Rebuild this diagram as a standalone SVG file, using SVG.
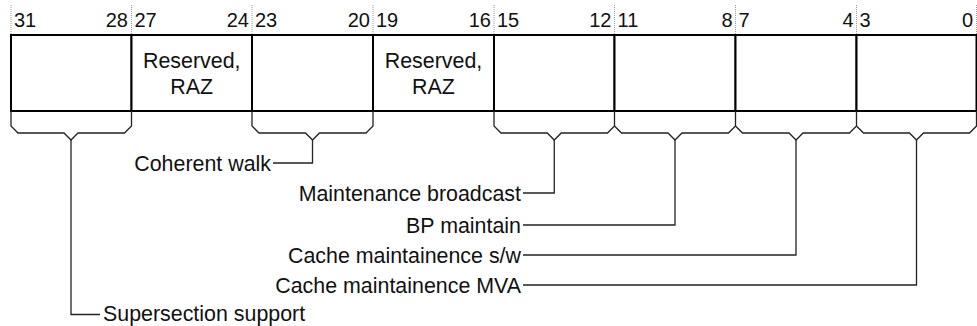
<svg xmlns="http://www.w3.org/2000/svg" width="977" height="326" viewBox="0 0 977 326">
<style>
.bg{fill:#ffffff}
.fld{fill:#ffffff;stroke:#000;stroke-width:2}
.tick{stroke:#9a9a9a;stroke-width:1;stroke-dasharray:1,1}
.num{font-family:"Liberation Sans",Arial,sans-serif;font-size:20px;fill:#111}
.lbl{font-family:"Liberation Sans",Arial,sans-serif;font-size:21.4px;fill:#111}
.br{fill:none;stroke:#222;stroke-width:1.3}
</style>
<rect class="bg" x="0" y="0" width="977" height="326"/>
<g id="ticks">
<line class="tick" x1="11" y1="5" x2="11" y2="35"/>
<line class="tick" x1="131.5" y1="5" x2="131.5" y2="35"/>
<line class="tick" x1="252" y1="5" x2="252" y2="35"/>
<line class="tick" x1="373" y1="5" x2="373" y2="35"/>
<line class="tick" x1="494" y1="5" x2="494" y2="35"/>
<line class="tick" x1="614.5" y1="5" x2="614.5" y2="35"/>
<line class="tick" x1="735.5" y1="5" x2="735.5" y2="35"/>
<line class="tick" x1="856.5" y1="5" x2="856.5" y2="35"/>
<line class="tick" x1="976.5" y1="5" x2="976.5" y2="35"/>
</g>
<g id="f31_28">
<rect class="fld" x="11" y="35" width="120.5" height="76"/>
<text class="num" x="14" y="27">31</text>
<text class="num" x="128" y="27" text-anchor="end">28</text>
</g>
<g id="f27_24">
<rect class="fld" x="131.5" y="35" width="120.5" height="76"/>
<text class="num" x="134.5" y="27">27</text>
<text class="num" x="249" y="27" text-anchor="end">24</text>
<text class="lbl" x="191.75" y="68" text-anchor="middle">Reserved,</text>
<text class="lbl" x="191.75" y="94" text-anchor="middle">RAZ</text>
</g>
<g id="f23_20">
<rect class="fld" x="252" y="35" width="121" height="76"/>
<text class="num" x="255" y="27">23</text>
<text class="num" x="370" y="27" text-anchor="end">20</text>
</g>
<g id="f19_16">
<rect class="fld" x="373" y="35" width="121" height="76"/>
<text class="num" x="376" y="27">19</text>
<text class="num" x="491" y="27" text-anchor="end">16</text>
<text class="lbl" x="433.5" y="68" text-anchor="middle">Reserved,</text>
<text class="lbl" x="433.5" y="94" text-anchor="middle">RAZ</text>
</g>
<g id="f15_12">
<rect class="fld" x="494" y="35" width="120.5" height="76"/>
<text class="num" x="497" y="27">15</text>
<text class="num" x="611.5" y="27" text-anchor="end">12</text>
</g>
<g id="f11_8">
<rect class="fld" x="614.5" y="35" width="121" height="76"/>
<text class="num" x="617.5" y="27">11</text>
<text class="num" x="732.5" y="27" text-anchor="end">8</text>
</g>
<g id="f7_4">
<rect class="fld" x="735.5" y="35" width="121" height="76"/>
<text class="num" x="738.5" y="27">7</text>
<text class="num" x="853.5" y="27" text-anchor="end">4</text>
</g>
<g id="f3_0">
<rect class="fld" x="856.5" y="35" width="120" height="76"/>
<text class="num" x="859.5" y="27">3</text>
<text class="num" x="973" y="27" text-anchor="end">0</text>
</g>
<g id="labels">
<text class="lbl" x="271" y="170.5" text-anchor="end">Coherent walk</text>
<text class="lbl" x="521" y="200.5" text-anchor="end">Maintenance broadcast</text>
<text class="lbl" x="521" y="232.5" text-anchor="end">BP maintain</text>
<text class="lbl" x="521" y="262.5" text-anchor="end">Cache maintainence s/w</text>
<text class="lbl" x="521" y="292.5" text-anchor="end">Cache maintainence MVA</text>
<text class="lbl" x="103" y="321">Supersection support</text>
</g>
<g id="connectors">
<path class="br" d="M11,111 V126 L18,133 H64 L71,140 L78,133 H124.5 L131.5,126 V111"/>
<path class="br" d="M252,111 V126 L259,133 H305.5 L312.5,140 L319.5,133 H366 L373,126 V111"/>
<path class="br" d="M494,111 V126 L501,133 H547.25 L554.25,140 L561.25,133 H607.5 L614.5,126 V111"/>
<path class="br" d="M614.5,126 L621.5,133 H668 L675,140 L682,133 H728.5 L735.5,126 V111"/>
<path class="br" d="M735.5,126 L742.5,133 H789 L796,140 L803,133 H849.5 L856.5,126 V111"/>
<path class="br" d="M856.5,126 L863.5,133 H909.5 L916.5,140 L923.5,133 H969.5 L976.5,126 V111"/>
<path class="br" d="M71,140 V314.5 H100"/>
<path class="br" d="M312.5,140 V163 H273"/>
<path class="br" d="M554.25,140 V193 H523"/>
<path class="br" d="M675,140 V225 H523"/>
<path class="br" d="M796,140 V255 H523"/>
<path class="br" d="M916.5,140 V285 H523"/>
</g>
</svg>
